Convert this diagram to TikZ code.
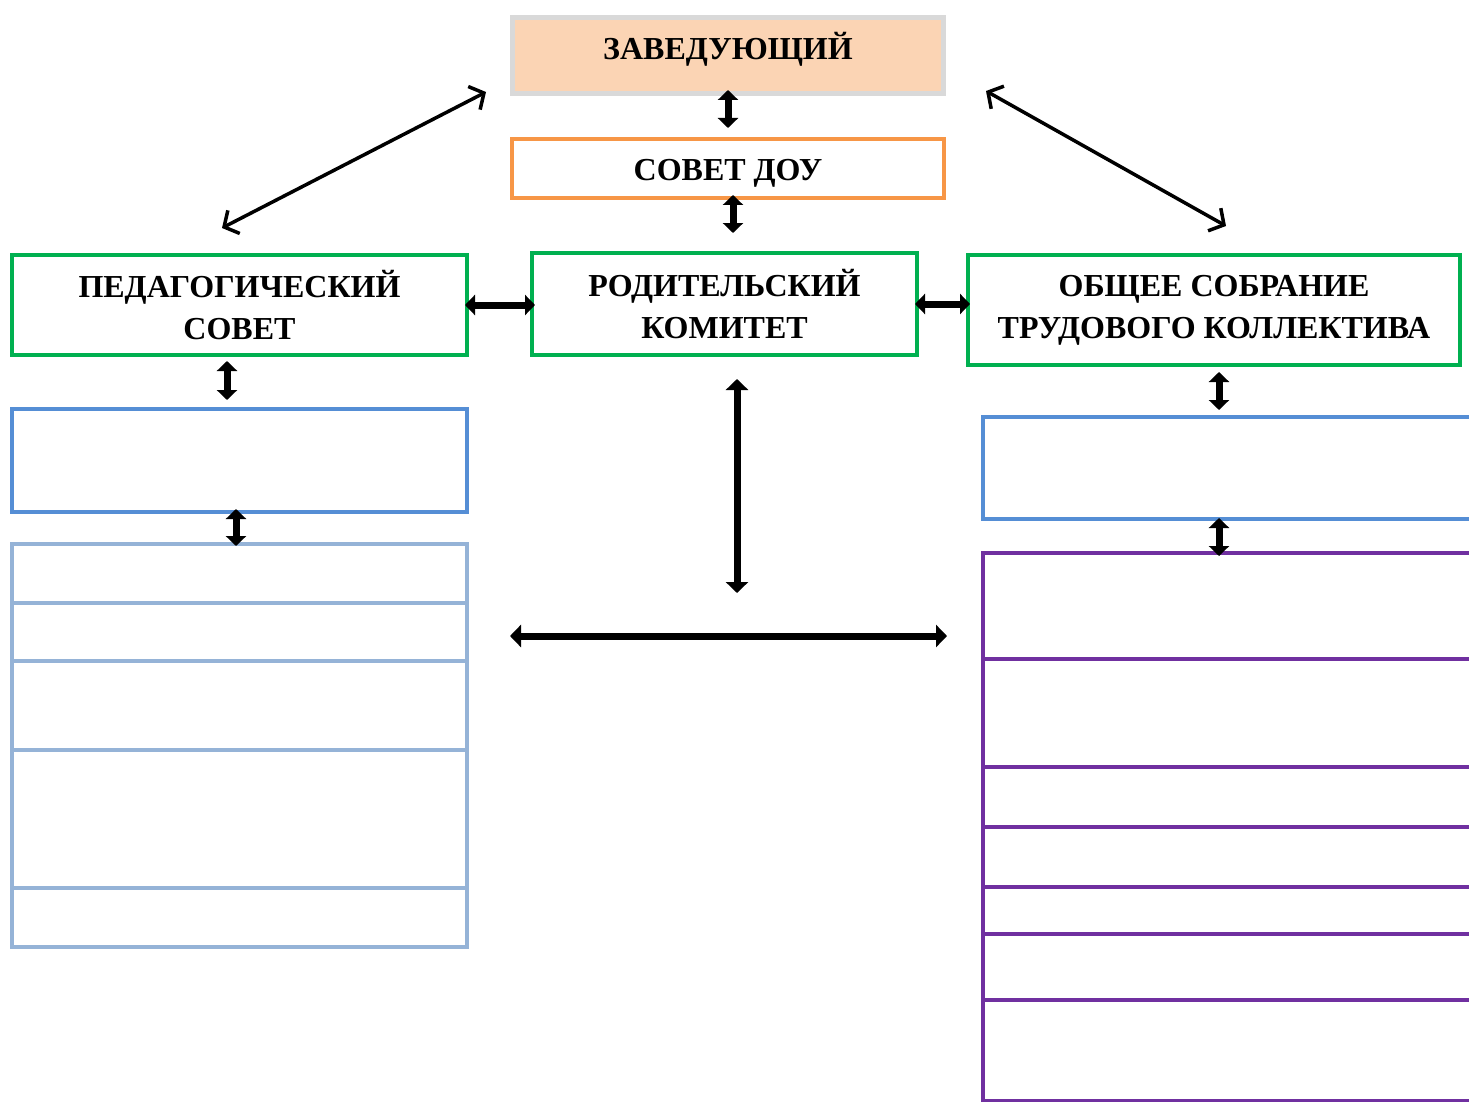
\documentclass[tikz,border=0pt]{standalone}
\usepackage{fontspec}
\setmainfont{Liberation Serif}
\usetikzlibrary{arrows.meta,positioning,calc}
\definecolor{zavgray}{HTML}{D9D9D9}
\definecolor{zavfill}{HTML}{FBD4B4}
\definecolor{sovorange}{HTML}{F79646}
\definecolor{grn}{HTML}{00B050}
\definecolor{blu}{HTML}{558ED5}
\definecolor{lblu}{HTML}{95B3D7}
\definecolor{purp}{HTML}{7030A0}
\begin{document}
\begin{tikzpicture}[x=1pt,y=-1pt,node distance=113pt,on grid]
\clip (0,0) rectangle (1469,1102);
\tikzset{box/.style={draw,line width=4pt,inner sep=0pt,font=\bfseries\fontsize{32}{42}\selectfont,align=center}}
\tikzset{bigarrow/.style={{Triangle[width=20pt,length=10pt]}-{Triangle[width=20pt,length=10pt]},line width=7pt}}
\tikzset{longarrow/.style={{Triangle[width=22pt,length=11pt]}-{Triangle[width=22pt,length=11pt]},line width=7pt}}
\tikzset{thinarrow/.style={{Straight Barb[length=11pt,width=26pt]}-{Straight Barb[length=11pt,width=26pt]},line width=3.5pt,line cap=round}}

  \node[box,draw=zavgray,fill=zavfill,line width=5pt,minimum width=431pt,minimum height=76pt,text height=22pt,text depth=14pt] (zav) at (728,55.5) {ЗАВЕДУЮЩИЙ};
  \node[box,draw=sovorange,minimum width=432pt,minimum height=59pt,text height=25pt,text depth=0pt] (sov) [below=113pt of zav] {СОВЕТ ДОУ};
  \node[box,draw=grn,minimum width=455pt,minimum height=100pt] (ped) at (239.5,305) {ПЕДАГОГИЧЕСКИЙ\\СОВЕТ};
  \node[box,draw=grn,minimum width=385pt,minimum height=102pt] (rod) at (724.5,304) {РОДИТЕЛЬСКИЙ\\КОМИТЕТ};
  \node[box,draw=grn,minimum width=492pt,minimum height=110pt] (obs) at (1214,310) {ОБЩЕЕ СОБРАНИЕ\\ТРУДОВОГО КОЛЛЕКТИВА};
  \node[box,draw=blu,minimum width=455pt,minimum height=103pt] (blL) at (239.5,460.5) {};
  \node[box,draw=blu,minimum width=517pt,minimum height=102pt] (blR) at (1241.5,468) {};

  \foreach \a/\b [count=\i] in {544/603,603/661,661/750,750/888,888/947}
    \node[box,draw=lblu,minimum width=455pt,minimum height={(\b-\a)*1pt}] (l\i) at (239.5,{(\a+\b)/2}) {};
  \foreach \a/\b [count=\i] in {553/659,659/767,767/827,827/887,887/934,934/1000,1000/1101}
    \node[box,draw=purp,minimum width=517pt,minimum height={(\b-\a)*1pt}] (r\i) at (1241.5,{(\a+\b)/2}) {};

  \coordinate (pa) at (222,228);
  \coordinate (za) at (486,92);
  \coordinate (zb) at (986,91);
  \coordinate (ob) at (1226,226);
  \coordinate (vb) at (737,593);
  \coordinate (hl) at (510,636);
  \coordinate (hr) at (947,636);

\path (pa) edge [thinarrow] (za)
      (zb) edge [thinarrow] (ob)
      ($(zav.south)+(0,-6)$) edge [bigarrow] ($(sov.north)+(0,-9)$)
      ($(sov.south)+(5,-5)$) edge [bigarrow] ($(rod.north)+(8.5,-18)$)
      ($(ped.east)+(-4,0)$) edge [bigarrow] ($(rod.west |- ped.east)+(5,0)$)
      ($(rod.east)+(-4,0)$) edge [bigarrow] ($(obs.west |- rod.east)+(4,0)$)
      ($(ped.south)+(-12.5,4)$) edge [bigarrow] ($(blL.north)+(-12.5,-7)$)
      ($(blL.south)+(-3.5,-5)$) edge [bigarrow] ($(l1.north)+(-3.5,4)$)
      ($(obs.south)+(5,5)$) edge [bigarrow] ($(blR.north -| obs.south)+(5,-5)$)
      ($(blR.south -| obs.south)+(5,-3)$) edge [bigarrow] ($(r1.north -| obs.south)+(5,5)$)
      ($(rod.south)+(12.5,22)$) edge [longarrow] (vb)
      (hl) edge [longarrow] (hr);
\end{tikzpicture}
\end{document}
